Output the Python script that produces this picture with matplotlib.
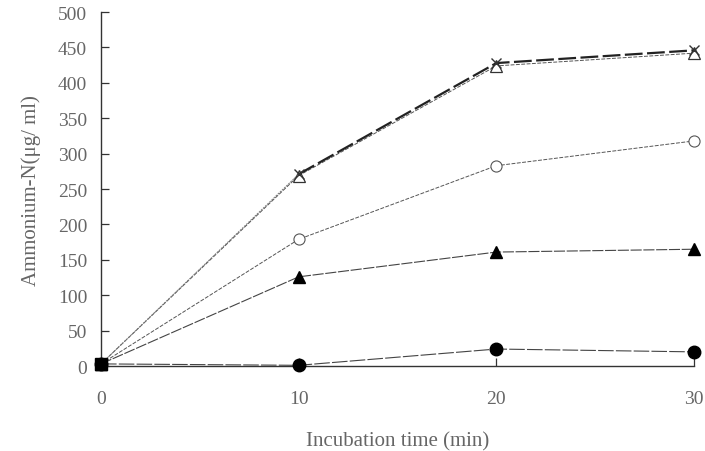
import matplotlib.pyplot as plt
import numpy as np

# incubation time (min) and ammonium-N (ug/ml) for each treatment
time_min = [0, 10, 20, 30]
cross_vals = [3, 271, 428, 446]
open_tri_vals = [3, 269, 424, 442]
open_circ_vals = [3, 179, 283, 318]
filled_tri_vals = [3, 126, 161, 165]
filled_circ_vals = [3, 1, 24, 20]

xticks = [0, 10, 20, 30]
yticks = list(range(0, 501, 50))

plt.rcParams['font.family'] = ['Liberation Serif', 'DejaVu Serif']
txt_col = '#666666'

fig = plt.figure(figsize=(7.05, 4.52), dpi=100)
ax = fig.add_axes([0.1433, 0.188, 0.841, 0.783])

# cross series: faint first leg, heavier dashes later on
ax.plot(time_min[:2], cross_vals[:2], color='#777777', lw=0.7, ls=(0, (2, 1)),
        zorder=4)
ax.plot(time_min[1:], cross_vals[1:], color='#222222', lw=1.6, ls=(0, (8, 2)),
        zorder=4)
ax.plot(time_min, cross_vals, ls='none', marker='x', ms=7, mew=1.0,
        mec='#333333', clip_on=False, zorder=5)

ax.plot(time_min, open_tri_vals, color='#555555', lw=0.7, ls=(0, (4, 1.5)),
        marker='^', ms=9, mfc='white', mec='#333333', mew=0.9, clip_on=False, zorder=3)
ax.plot(time_min, open_circ_vals, color='#555555', lw=0.7, ls=(0, (4, 1.5)),
        marker='o', ms=8, mfc='white', mec='#555555', mew=0.8, clip_on=False, zorder=3)
ax.plot(time_min, filled_tri_vals, color='#444444', lw=0.8, ls=(0, (10, 1.5)),
        marker='^', ms=9, mfc='black', mec='black', clip_on=False, zorder=3)
ax.plot(time_min, filled_circ_vals, color='#444444', lw=0.8, ls=(0, (14, 2)),
        marker='o', ms=9, mfc='black', mec='black', clip_on=False, zorder=3)
# origin blob shared by all treatments
ax.plot([time_min[0]], [filled_circ_vals[0]], marker='s', ms=9, color='black',
        clip_on=False, zorder=6)

ax.set_xlim(0, 30)
ax.set_ylim(0, 500)
ax.set_xticks(xticks)
ax.set_yticks(yticks)

for s in ['top', 'right']:
    ax.spines[s].set_visible(False)
for s in ['left', 'bottom']:
    ax.spines[s].set_color('#333333')
    ax.spines[s].set_linewidth(1.0)

ax.tick_params(axis='both', direction='in', length=6, width=0.9,
               colors='#333333', labelcolor=txt_col, labelsize=14)
ax.tick_params(axis='x', pad=17)
ax.tick_params(axis='y', pad=10)

ax.set_xlabel('Incubation time (min)', fontsize=15, color=txt_col, labelpad=18)
ax.set_ylabel('Ammonium-N(\u03bcg/ ml)', fontsize=15, color=txt_col, labelpad=12)

fig.savefig('out.png', dpi=100)
